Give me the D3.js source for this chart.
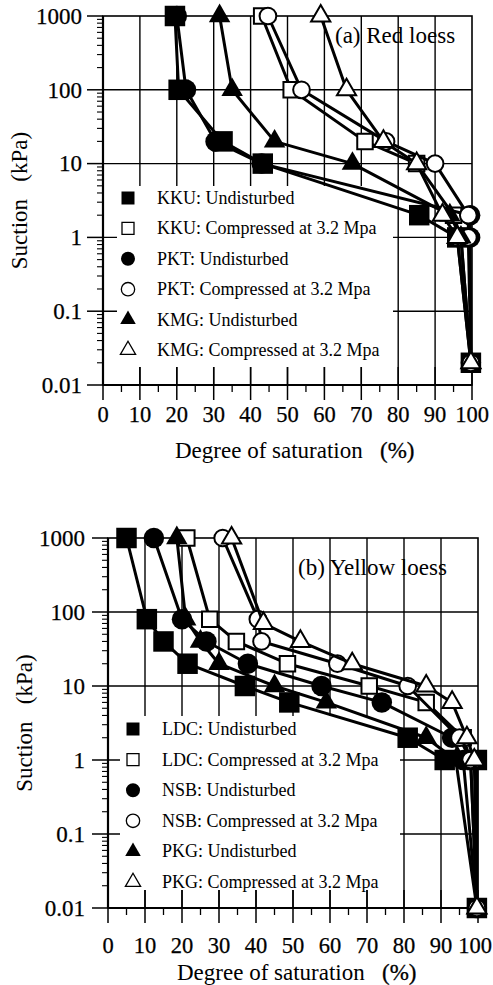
<!DOCTYPE html>
<html><head><meta charset="utf-8">
<script src="https://cdn.jsdelivr.net/npm/d3@7"></script>
<style>
body{margin:0;background:#fff}
svg{display:block}
</style>
</head><body>
<svg id="chart" width="493" height="985" font-family="'Liberation Serif', 'DejaVu Serif', serif"></svg>
<script>
// ---------- shared axis data ----------
const xTickValues = [0,10,20,30,40,50,60,70,80,90,100];
const xMinorValues = [5,15,25,35,45,55,65,75,85,95];
const yTickValues = [0.01,0.1,1,10,100,1000];
const yTickLabels = ["0.01","0.1","1","10","100","1000"];
const xTitle = "Degree of saturation";
const xUnit = "(%)";
const yTitle = "Suction   (kPa)";

// ---------- panel (a) Red loess : [degree of saturation %, suction kPa] ----------
const titleA = "(a) Red loess";
const namesA = ["KKU: Undisturbed","KKU: Compressed at 3.2 Mpa","PKT: Undisturbed","PKT: Compressed at 3.2 Mpa","KMG: Undisturbed","KMG: Compressed at 3.2 Mpa"];
const kkuUndisturbed = [[19.5,1000],[20.5,100],[32.4,20],[43.3,10],[85.7,2],[96,1],[99.7,0.02]];
const kkuCompressed  = [[43,1000],[51,100],[71,20],[85,10],[95,2],[97,1],[99.7,0.02]];
const pktUndisturbed = [[20,1000],[22.5,100],[30.5,20],[43,10],[99.5,2],[99.5,1],[99.7,0.02]];
const pktCompressed  = [[44.7,1000],[53.8,100],[76.7,20],[90,10],[99,2],[99,1],[99.7,0.02]];
const kmgUndisturbed = [[31.6,1000],[35,100],[46.5,20],[67.6,10],[94,2],[97,1],[99.7,0.02]];
const kmgCompressed  = [[59,1000],[66,100],[76,20],[85,10],[92,2],[96,1],[99.7,0.02]];

// ---------- panel (b) Yellow loess ----------
const titleB = "(b) Yellow loess";
const namesB = ["LDC: Undisturbed","LDC: Compressed at 3.2 Mpa","NSB: Undisturbed","NSB: Compressed at 3.2 Mpa","PKG: Undisturbed","PKG: Compressed at 3.2 Mpa"];
const ldcUndisturbed = [[5,1000],[10.5,80],[15,40],[21.5,20],[37,10],[49,6],[81,2],[91,1],[99.7,1],[99.7,0.01]];
const ldcCompressed  = [[21.3,1000],[27.5,80],[34.7,40],[48.5,20],[70.6,10],[86,6],[96,2],[98,1],[99.7,0.01]];
const nsbUndisturbed = [[12.4,1000],[20,80],[26.6,40],[37.8,20],[57.7,10],[74,6],[93,2],[96,1],[99.7,0.01]];
const nsbCompressed  = [[31,1000],[40.5,80],[41.5,40],[62,20],[81,10],[95,2],[98,1],[99.7,0.01]];
const pkgUndisturbed = [[18.6,1000],[21,80],[25,40],[30,20],[45,10],[59,6],[86,2],[94,1],[99.7,0.01]];
const pkgCompressed  = [[33.4,1000],[42,70],[52,40],[66,20],[86,10],[93,6],[97,2],[99,1],[99.7,0.01]];

const shapes = ["square","square","circle","circle","triangle","triangle"];
const filled = [true,false,true,false,true,false];

// ---------- drawing ----------
const svg = d3.select("#chart");
const W = 493;

function symbolPath(shape, isFilled, legend){
  let type, size;
  if(shape==="square"){ type=d3.symbolSquare; size = isFilled ? (legend?169:420) : (legend?144:240); }
  else if(shape==="circle"){ type=d3.symbolCircle; size = isFilled ? (legend?154:330) : (legend?140:220); }
  else { type=d3.symbolTriangle; size = isFilled ? (legend?105:200) : (legend?100:160); }
  return d3.symbol().type(type).size(size)();
}

function drawPanel(cfg){
  const g = svg.append("g");
  const x = d3.scaleLinear().domain([0,100]).range([cfg.x0,cfg.x1]);
  const y = d3.scaleLog().domain([0.01,1000]).range([cfg.yb,cfg.yt]);

  // grid
  g.selectAll(".vg").data(xTickValues.filter(d=>d>0&&d<100)).join("line")
    .attr("x1",d=>x(d)).attr("x2",d=>x(d)).attr("y1",cfg.yt).attr("y2",cfg.yb)
    .attr("stroke","#000").attr("stroke-width",1.4);
  g.selectAll(".hg").data(yTickValues.filter(d=>d>0.01&&d<1000)).join("line")
    .attr("x1",cfg.x0).attr("x2",cfg.x1).attr("y1",d=>y(d)).attr("y2",d=>y(d))
    .attr("stroke","#000").attr("stroke-width",1.4);

  // legend background (hides the grid)
  g.append("rect").attr("x",cfg.lx0).attr("y",cfg.ly0).attr("width",cfg.lx1-cfg.lx0).attr("height",y(0.01)-18-cfg.ly0)
    .attr("fill","#fff");

  // frame
  g.append("rect").attr("x",cfg.x0).attr("y",cfg.yt).attr("width",cfg.x1-cfg.x0).attr("height",cfg.yb-cfg.yt)
    .attr("fill","none").attr("stroke","#000").attr("stroke-width",1.6);
  g.append("line").attr("x1",cfg.x0).attr("x2",cfg.x0).attr("y1",cfg.yt).attr("y2",cfg.yb).attr("stroke","#000").attr("stroke-width",2.2);
  g.append("line").attr("x1",cfg.x0).attr("x2",cfg.x1).attr("y1",cfg.yb).attr("y2",cfg.yb).attr("stroke","#000").attr("stroke-width",2.2);

  // x ticks
  g.selectAll(".xt").data(xTickValues).join("line")
    .attr("x1",d=>x(d)).attr("x2",d=>x(d)).attr("y1",cfg.yb-18).attr("y2",cfg.yb+15)
    .attr("stroke","#000").attr("stroke-width",1.5);
  g.selectAll(".xm").data(xMinorValues).join("line")
    .attr("x1",d=>x(d)).attr("x2",d=>x(d)).attr("y1",cfg.yb).attr("y2",cfg.yb+7)
    .attr("stroke","#000").attr("stroke-width",1.3);
  g.selectAll(".xl").data(xTickValues).join("text")
    .attr("x",d=>x(d)).attr("y",cfg.yb+cfg.xlOff).attr("text-anchor","middle")
    .attr("font-size",22.5).attr("stroke","#000").attr("stroke-width",0.25).text(d=>d)
    .each(function(){
      // keep the label inside the page
      const b = this.getBBox();
      if(b.x + b.width > W - 1){ d3.select(this).attr("text-anchor","end").attr("x", W - 1); }
    });

  // y ticks
  g.selectAll(".yt").data(yTickValues).join("line")
    .attr("x1",cfg.x0-16).attr("x2",cfg.x0).attr("y1",d=>y(d)).attr("y2",d=>y(d))
    .attr("stroke","#000").attr("stroke-width",1.5);
  const minors = [];
  yTickValues.slice(0,-1).forEach(d=>{ for(let k=2;k<10;k++) minors.push(d*k); });
  g.selectAll(".ym").data(minors).join("line")
    .attr("x1",cfg.x0-6).attr("x2",cfg.x0).attr("y1",d=>y(d)).attr("y2",d=>y(d))
    .attr("stroke","#000").attr("stroke-width",1.1);
  g.selectAll(".yl").data(yTickValues).join("text")
    .attr("x",cfg.ylx).attr("y",d=>y(d)).attr("dy","0.34em").attr("text-anchor","end")
    .attr("font-size",23).attr("stroke","#000").attr("stroke-width",0.25).text((d,i)=>yTickLabels[i]);

  // axis titles
  g.append("text").attr("x",cfg.xtx).attr("y",cfg.xty).attr("font-size",23).text(xTitle);
  g.append("text").attr("x",cfg.xux).attr("y",cfg.xty).attr("font-size",23).attr("stroke","#000").attr("stroke-width",0.3).text(xUnit);
  g.append("text").attr("transform",`translate(${cfg.ytx},${(cfg.yt+cfg.yb)/2}) rotate(-90)`)
    .attr("text-anchor","middle").attr("font-size",23).style("white-space","pre").text(yTitle);

  // panel title
  g.append("text").attr("x",cfg.tx).attr("y",cfg.ty).attr("font-size",23).text(cfg.title);

  // series
  const line = d3.line().x(d=>x(d[0])).y(d=>y(d[1]));
  cfg.series.forEach((s,i)=>{
    g.append("path").attr("d",line(s)).attr("fill","none").attr("stroke","#000")
      .attr("stroke-width",3).attr("stroke-linejoin","round");
    g.selectAll(null).data(s).join("path")
      .attr("transform",d=>`translate(${x(d[0])},${y(d[1])})`)
      .attr("d",symbolPath(shapes[i],filled[i],false))
      .attr("fill",filled[i]?"#000":"#fff").attr("stroke","#000").attr("stroke-width",filled[i]?0:2);
  });

  // legend
  cfg.names.forEach((n,i)=>{
    const ly = cfg.legY + i*cfg.legStep;
    g.append("path").attr("transform",`translate(${cfg.legMx},${ly})`)
      .attr("d",symbolPath(shapes[i],filled[i],true))
      .attr("fill",filled[i]?"#000":"#fff").attr("stroke","#000").attr("stroke-width",filled[i]?0:1.3);
    g.append("text").attr("x",cfg.legTx).attr("y",ly).attr("dy","0.33em").attr("font-size",18).text(n);
  });
}

drawPanel({x0:103,x1:472,yt:16,yb:385,lx0:117,lx1:393,ly0:186,xlOff:37,ylx:82,
  xtx:175,xux:380,xty:458,ytx:27,tx:335,ty:43,title:titleA,
  series:[kkuUndisturbed,kkuCompressed,pktUndisturbed,pktCompressed,kmgUndisturbed,kmgCompressed],
  names:namesA,legY:198,legStep:30.4,legMx:128,legTx:157});

drawPanel({x0:108,x1:478,yt:538,yb:908,lx0:120,lx1:400,ly0:716,xlOff:45,ylx:85,
  xtx:177,xux:382,xty:980,ytx:32,tx:298,ty:575,title:titleB,
  series:[ldcUndisturbed,ldcCompressed,nsbUndisturbed,nsbCompressed,pkgUndisturbed,pkgCompressed],
  names:namesB,legY:729,legStep:30.6,legMx:133,legTx:162});
</script>
</body></html>
